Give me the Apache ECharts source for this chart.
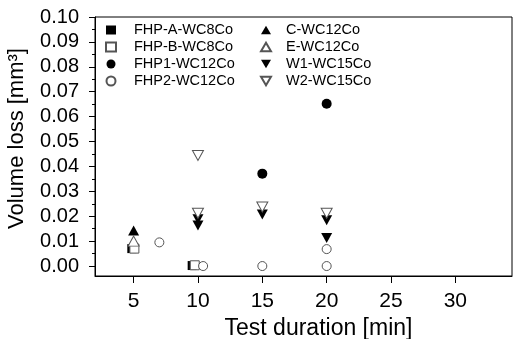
<!DOCTYPE html>
<html>
<head>
<meta charset="utf-8">
<script src="https://cdn.jsdelivr.net/npm/echarts@6/dist/echarts.min.js"></script>
<style>html,body{margin:0;padding:0;background:#fff}#c{width:521px;height:339px}</style>
</head>
<body>
<div id="c"></div>
<script>
// Tick labels
var xTicks = [5, 10, 15, 20, 25, 30];
var yTicks = [0, 0.01, 0.02, 0.03, 0.04, 0.05, 0.06, 0.07, 0.08, 0.09, 0.10];
var yMinorTicks = [0.005, 0.015, 0.025, 0.035, 0.045, 0.055, 0.065, 0.075, 0.085, 0.095];

// Series names
var seriesNames = ['FHP-A-WC8Co', 'FHP-B-WC8Co', 'FHP1-WC12Co', 'FHP2-WC12Co',
                   'C-WC12Co', 'E-WC12Co', 'W1-WC15Co', 'W2-WC15Co'];

// Data [test duration (min), volume loss (mm3)]
var fhpA = [[4.86, 0.0070], [9.55, 0.0002]];
var fhpB = [[5.06, 0.0070], [9.75, 0.0003]];
var fhp1 = [[15, 0.0371], [20, 0.0652]];
var fhp2 = [[7, 0.0095], [10.4, 0.0000], [15, 0.0000], [20, 0.0000], [20, 0.0068]];
var cWC = [[5, 0.0143]];
var eWC = [[5, 0.0100]];
var w1 = [[10, 0.0188], [10, 0.0163], [15, 0.0207], [20, 0.0184], [20, 0.0113]];
var w2 = [[10, 0.0444], [10, 0.0212], [15, 0.0237], [20, 0.0212]];

var FONT = 'Arial, "Liberation Sans", sans-serif';
var filled = {color: '#000', opacity: 1};
var open = {color: '#fff', borderColor: '#555', borderWidth: 1, opacity: 1};
var UP = 'path://M5,0L10,8.66L0,8.66Z';
var DOWN = 'path://M0,0L10,0L5,8.66Z';

function sc(name, data, symbol, size, style) {
  return {
    name: name, type: 'scatter', data: data, symbol: symbol, symbolSize: size,
    itemStyle: style, emphasis: {disabled: true}
  };
}

var legendText = {fontFamily: FONT, fontSize: 14.5, color: '#000', lineHeight: 16};

var chart = echarts.init(document.getElementById('c'), null, {renderer: 'canvas'});
chart.setOption({
  animation: false,
  backgroundColor: '#fff',
  grid: {left: 95, top: 17, right: 9, bottom: 63, outerBoundsMode: 'none', containLabel: false,
         show: true, borderColor: '#000', borderWidth: 1, backgroundColor: 'transparent'},
  legend: [
    {data: seriesNames.slice(0, 4), orient: 'vertical', left: 105, top: 22, padding: 0, itemWidth: 10, itemHeight: 9, itemGap: 1,
     selectedMode: false, textStyle: Object.assign({padding: [0, 0, 0, 13]}, legendText)},
    {data: seriesNames.slice(4, 8), orient: 'vertical', left: 260, top: 22, padding: 0, itemWidth: 10, itemHeight: 9, itemGap: 1,
     selectedMode: false, textStyle: Object.assign({padding: [0, 0, 0, 10]}, legendText)}
  ],
  xAxis: {
    type: 'value', min: 2, max: 34.4,
    name: 'Test duration [min]', nameLocation: 'middle', nameGap: 27,
    nameTextStyle: {fontFamily: FONT, fontSize: 23, color: '#000', padding: [0, 0, 0, 30]},
    axisLine: {show: true, onZero: false, lineStyle: {color: '#000', width: 1}},
    axisTick: {show: true, length: 7, customValues: xTicks, lineStyle: {color: '#000'}},
    axisLabel: {customValues: xTicks, fontFamily: FONT, fontSize: 21, color: '#000', margin: 15},
    splitLine: {show: false}
  },
  yAxis: [
    {
      type: 'value', min: -0.004, max: 0.1,
      name: 'Volume loss [mm³]', nameLocation: 'middle', nameGap: 67,
      nameTextStyle: {fontFamily: FONT, fontSize: 22, color: '#000', padding: [0, 0, 0, 16]},
      axisLine: {show: true, onZero: false, lineStyle: {color: '#000', width: 1}},
      axisTick: {show: true, length: 6, customValues: yTicks, lineStyle: {color: '#000'}},
      axisLabel: {customValues: yTicks, fontFamily: FONT, fontSize: 20, color: '#000', margin: 16,
                  formatter: function (v) { return v.toFixed(2); }},
      splitLine: {show: false}
    },
    {
      type: 'value', min: -0.004, max: 0.1, position: 'left', offset: 0,
      axisLine: {show: false},
      axisTick: {show: true, length: 3, customValues: yMinorTicks, lineStyle: {color: '#000'}},
      axisLabel: {show: false},
      splitLine: {show: false}
    }
  ],
  series: [
    sc(seriesNames[0], fhpA, 'rect', 9, filled),
    sc(seriesNames[1], fhpB, 'rect', 9, open),
    sc(seriesNames[2], fhp1, 'circle', 10, filled),
    sc(seriesNames[3], fhp2, 'circle', 9, open),
    sc(seriesNames[4], cWC, UP, [11, 10], filled),
    sc(seriesNames[5], eWC, UP, [11, 10], open),
    sc(seriesNames[6], w1, DOWN, [11, 10], filled),
    sc(seriesNames[7], w2, DOWN, [11, 10], open)
  ]
});
</script>
</body>
</html>
